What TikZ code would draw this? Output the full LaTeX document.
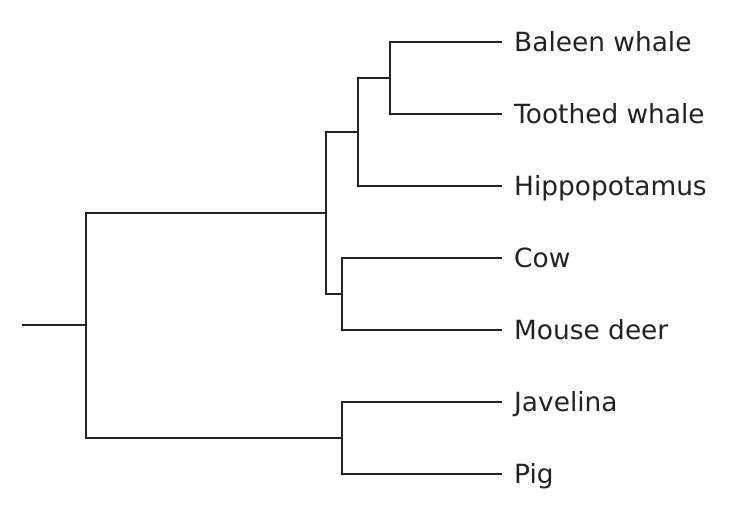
\documentclass[tikz,border=0pt]{standalone}
\usepackage{fontspec}
\setmainfont{DejaVu Sans}
\definecolor{treeline}{HTML}{222222}
\begin{document}
\begin{tikzpicture}[x=1pt,y=-1pt,
  branch/.style={draw=treeline,line width=2.4pt},
  taxon/.style={anchor=base west,inner sep=0pt,text=treeline,font=\fontsize{26.4}{30}\selectfont}]
\useasboundingbox (0,0) rectangle (736,514);
% internal nodes
\coordinate (stub) at (22,325);
\coordinate (root) at (86,325);
\coordinate (cet) at (326,213);
\coordinate (whippo) at (358,132);
\coordinate (whales) at (390,78);
\coordinate (rum) at (342,294);
\coordinate (sui) at (342,438);
% leaves
\coordinate (baleen) at (502,42);
\coordinate (toothed) at (502,114);
\coordinate (hippo) at (502,186);
\coordinate (cow) at (502,258);
\coordinate (mouse) at (502,330);
\coordinate (jav) at (502,402);
\coordinate (pig) at (502,474);
% labels
\node[taxon] (lbaleen) at (514,51.5) {Baleen whale};
\node[taxon] (ltoothed) at (514,123.5) {Toothed whale};
\node[taxon] (lhippo) at (514,195.5) {Hippopotamus};
\node[taxon] (lcow) at (514,267.5) {Cow};
\node[taxon] (lmouse) at (514,339.5) {Mouse deer};
\node[taxon] (ljav) at (514,411.5) {Javelina};
\node[taxon] (lpig) at (514,483.5) {Pig};
% branches
\draw[branch] (stub) -- (root);
\draw[branch] (root) |- (cet);
\draw[branch] (root) |- (sui);
\draw[branch] (cet) |- (whippo);
\draw[branch] (cet) |- (rum);
\draw[branch] (whippo) |- (whales);
\draw[branch] (whippo) |- (hippo);
\draw[branch] (whales) |- (baleen);
\draw[branch] (whales) |- (toothed);
\draw[branch] (rum) |- (cow);
\draw[branch] (rum) |- (mouse);
\draw[branch] (sui) |- (jav);
\draw[branch] (sui) |- (pig);
\end{tikzpicture}
\end{document}
